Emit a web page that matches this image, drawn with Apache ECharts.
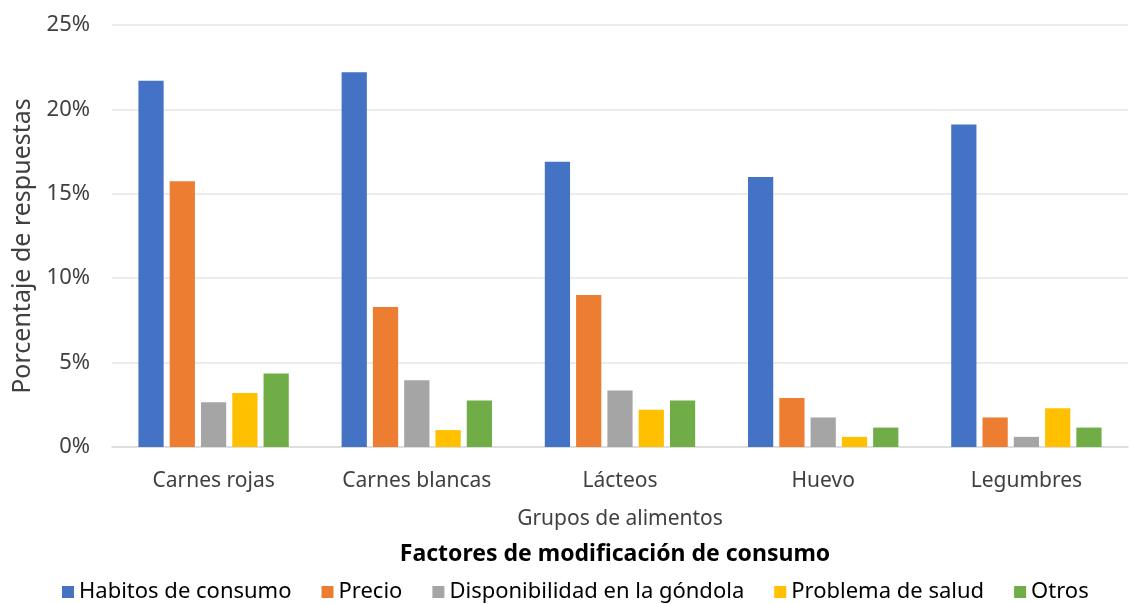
<!DOCTYPE html>
<html><head><meta charset="utf-8">
<script src="https://cdn.jsdelivr.net/npm/echarts@6/dist/echarts.min.js"></script>
<style>html,body{margin:0;padding:0;background:#fff}#c{width:1129px;height:604px}</style>
</head><body><div id="c"></div>
<script>
const categories = ['Carnes rojas', 'Carnes blancas', 'Lácteos', 'Huevo', 'Legumbres'];
const seriesNames = ['Habitos de consumo', 'Precio', 'Disponibilidad en la góndola', 'Problema de salud', 'Otros'];
const habitos = [21.7, 22.2, 16.9, 16.0, 19.1];
const precio = [15.75, 8.3, 9.0, 2.9, 1.75];
const disponibilidad = [2.65, 3.95, 3.35, 1.75, 0.6];
const salud = [3.2, 1.0, 2.2, 0.6, 2.3];
const otros = [4.35, 2.75, 2.75, 1.15, 1.15];
const yTicks = [0, 5, 10, 15, 20, 25];
const colors = ['#4472C4', '#ED7D31', '#A5A5A5', '#FFC000', '#70AD47'];

const values = [habitos, precio, disponibilidad, salud, otros];
const font = 'Noto Sans';
const chart = echarts.init(document.getElementById('c'));
chart.setOption({
  animation: false,
  textStyle: { fontFamily: font },
  color: colors,
  title: {
    text: 'Factores de modificación de consumo',
    left: 610, top: 538, textAlign: 'center',
    textStyle: { fontFamily: font, fontSize: 23, fontWeight: 'bold', color: '#000' }
  },
  legend: {
    data: seriesNames,
    left: 57, top: 576,
    icon: 'rect', itemWidth: 12, itemHeight: 12, itemGap: 30,
    textStyle: { fontFamily: font, fontSize: 22, color: '#000' }
  },
  grid: { left: 112, right: 1, top: 25, bottom: 157, containLabel: false },
  xAxis: {
    type: 'category', data: categories,
    name: 'Grupos de alimentos', nameLocation: 'middle', nameGap: 62,
    nameTextStyle: { fontFamily: font, fontSize: 21, color: '#404040' },
    axisTick: { show: false },
    axisLine: { lineStyle: { color: '#D9D9D9', width: 1.5 } },
    axisLabel: { fontFamily: font, fontSize: 21, color: '#404040', margin: 24 }
  },
  yAxis: {
    type: 'value', min: yTicks[0], max: yTicks[yTicks.length - 1], interval: 5,
    name: 'Porcentaje de respuestas', nameLocation: 'middle', nameGap: 76, nameRotate: 90,
    nameTextStyle: { fontFamily: font, fontSize: 25, color: '#404040', padding: [0, 20, 0, 0] },
    axisLine: { show: false }, axisTick: { show: false },
    splitLine: { lineStyle: { color: '#E6E6E6', width: 1.5 } },
    axisLabel: { fontFamily: font, fontSize: 22, color: '#404040', margin: 22, formatter: v => v + '%' }
  },
  series: seriesNames.map((n, i) => ({
    name: n, type: 'bar', data: values[i],
    barGap: '24%', barCategoryGap: '26%'
  }))
});
</script></body></html>
